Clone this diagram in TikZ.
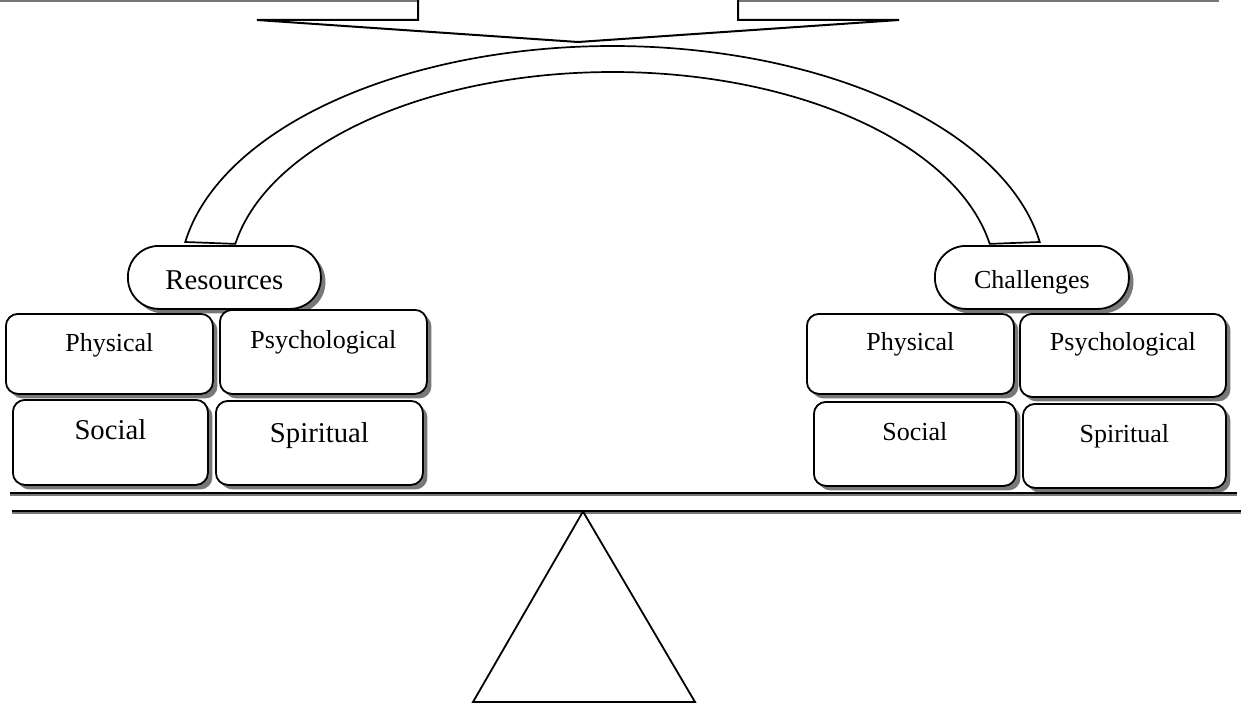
\documentclass[tikz,border=0pt]{standalone}
\usepackage{fontspec}
\setmainfont{Liberation Serif}
\usetikzlibrary{shadows}
\definecolor{shd}{RGB}{120,120,120}
\tikzset{
  box/.style={draw=black, line width=1.8pt, fill=white, rounded corners=12pt,
    anchor=north west, inner xsep=0pt, inner ysep=0pt, align=center,
    drop shadow={shadow xshift=4.5pt, shadow yshift=-4.5pt, fill=shd, opacity=1}},
  pill/.style={box, rounded corners=31pt},
  small/.style={font=\fontsize{26}{30}\selectfont},
  big/.style={font=\fontsize{28.7}{32}\selectfont},
  thick line/.style={line width=2pt, black},
}
\newcommand{\bx}[8]{% name, style, x1, y1, x2, y2, baseline, text
  \pgfmathsetmacro{\bw}{#5-#3}\pgfmathsetmacro{\th}{#7-#4}\pgfmathsetmacro{\td}{#6-#7}
  \node[#2, minimum width=\bw pt, text height=\th pt, text depth=\td pt] (#1) at (#3,#4) {#8};}
\begin{document}
\begin{tikzpicture}[x=1pt,y=-1pt]
\useasboundingbox (0,0) rectangle (1241,706);
% top gray edges
\draw[shd, line width=1.8pt] (0,0.9) -- (418,0.9);
\draw[shd, line width=1.8pt] (738,0.9) -- (1219,0.9);
% top chevron
\draw[thick line, line join=miter] (418,0) -- (418,20) -- (257,20) -- (578,42) -- (899,20) -- (738,20) -- (738,0);
% block arc
\draw[line width=1.7pt, fill=white]
  plot[domain=170.65:9.35, samples=150, smooth] ({612.5+433*cos(\x)},{280-234*sin(\x)})
  -- plot[domain=10:170, samples=150, smooth] ({612.5+383*cos(\x)},{280-208*sin(\x)}) -- cycle;
% boxes
\bx{res}{pill,big}{127}{245}{320}{308}{289}{Resources}
\bx{chal}{pill,small}{934}{245}{1128}{308}{288}{Challenges}
\bx{physL}{box,small}{5}{313}{212}{393}{351}{Physical}
\bx{psyL}{box,small}{219}{309}{426}{393}{348}{Psychological}
\bx{socL}{box,big}{12}{399}{207}{484}{439}{Social}
\bx{spiL}{box,big}{215}{400}{422}{484}{442}{Spiritual}
\bx{physR}{box,small}{806}{313}{1013}{393}{350}{Physical}
\bx{psyR}{box,small}{1019}{313}{1225}{396}{350}{Psychological}
\bx{socR}{box,small}{813}{401}{1015}{485}{440}{Social}
\bx{spiR}{box,small}{1022}{403}{1225}{487}{442}{Spiritual}
% beam
\draw[shd, line width=1.2pt] (10,495) -- (1237,495);
\draw[thick line] (10,493) -- (1237,493);
\draw[shd, line width=1.2pt] (12,513) -- (1241,513);
\draw[thick line] (12,511) -- (1241,511);
% fulcrum
\draw[line width=1.8pt, line join=miter] (583,511.5) -- (695,702) -- (473,702) -- cycle;
\end{tikzpicture}
\end{document}
